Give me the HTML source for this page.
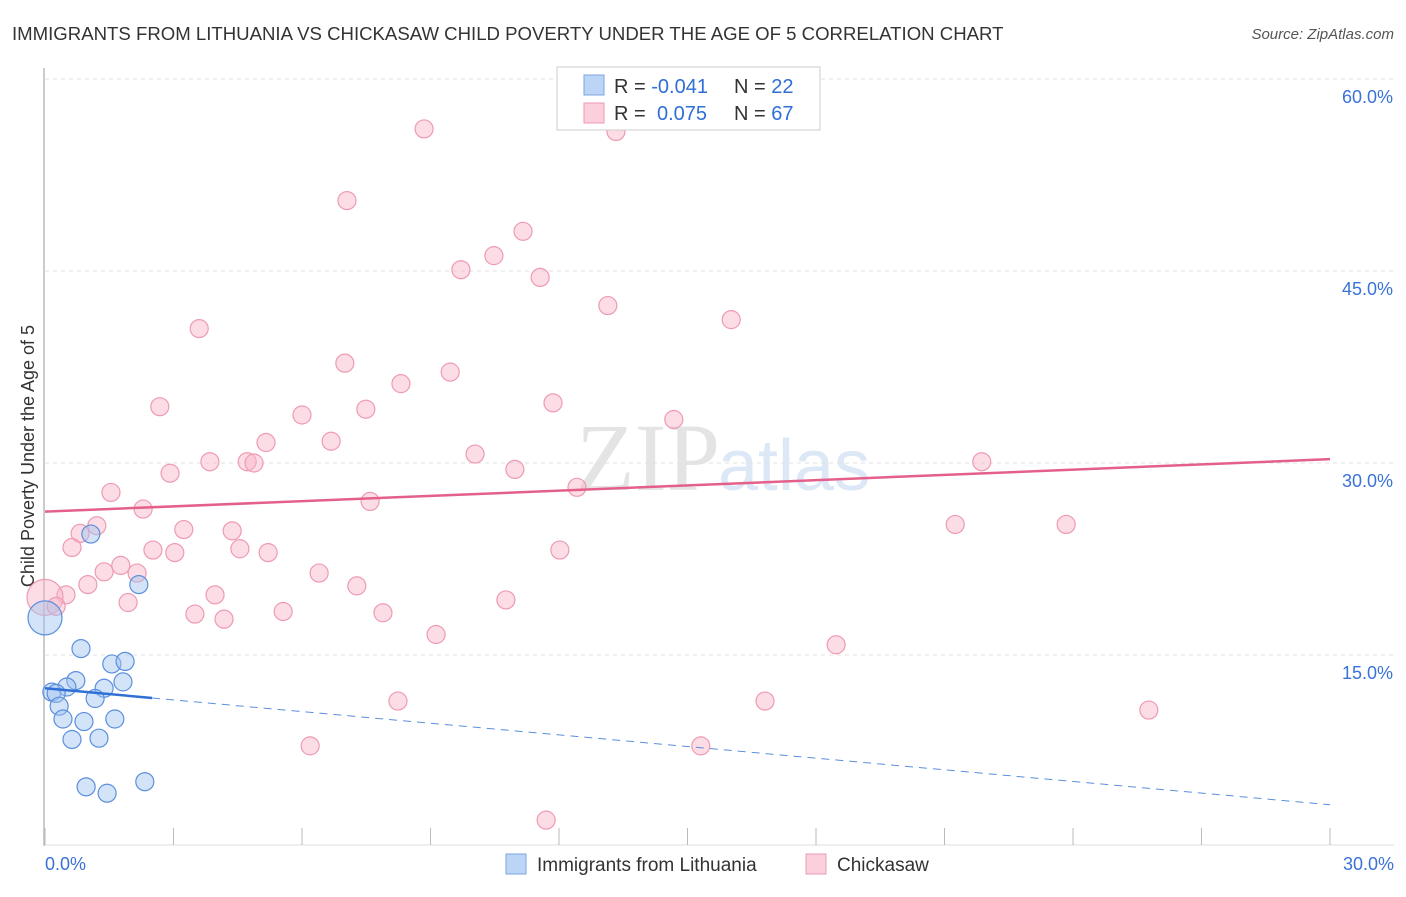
<!DOCTYPE html>
<html><head><meta charset="utf-8"><style>
body{margin:0;background:#fff;font-family:"Liberation Sans",sans-serif}
</style></head><body>
<svg width="1406" height="892" xmlns="http://www.w3.org/2000/svg" font-family="Liberation Sans, sans-serif">
<text x="12" y="40" font-size="18.6" fill="#333">IMMIGRANTS FROM LITHUANIA VS CHICKASAW CHILD POVERTY UNDER THE AGE OF 5 CORRELATION CHART</text>
<text x="1394" y="39" font-size="15" fill="#555" text-anchor="end" font-style="italic">Source: ZipAtlas.com</text>
<text x="720" y="490" font-size="96" fill="#e4e4e4" text-anchor="end" font-family="Liberation Serif, serif">ZIP</text>
<text x="718" y="490" font-size="72" fill="#dde8f6">atlas</text>
<g id="grid"></g>
<line x1="44" y1="68" x2="44" y2="846" stroke="#bbb" stroke-width="1.5"/>
<line x1="44" y1="845" x2="1394" y2="845" stroke="#ddd"/>
<g id="xticks"></g>
<text x="45" y="870" font-size="18" fill="#3a72d8">0.0%</text>
<text x="1394" y="870" font-size="18" fill="#3a72d8" text-anchor="end">30.0%</text>
<text transform="translate(34,456) rotate(-90)" font-size="18" fill="#333" text-anchor="middle">Child Poverty Under the Age of 5</text>
<g id="pts"></g>
<g id="lines"></g>
<g>
<rect x="557" y="67" width="263" height="63" fill="#fff" stroke="#ccc"/>
<rect x="584" y="75" width="20" height="20" fill="#bcd4f6" stroke="#7ea6e0"/>
<rect x="584" y="103" width="20" height="20" fill="#fbd0dc" stroke="#ee9ab2"/>
<text x="614" y="93" font-size="20" fill="#333">R = <tspan fill="#2f6fd6">-0.041</tspan><tspan x="734">N = </tspan><tspan fill="#2f6fd6">22</tspan></text>
<text x="614" y="120" font-size="20" fill="#333">R = <tspan x="657" fill="#2f6fd6">0.075</tspan><tspan x="734">N = </tspan><tspan fill="#2f6fd6">67</tspan></text>
</g>
<g>
<rect x="506" y="854" width="20" height="20" fill="#bcd4f6" stroke="#7ea6e0"/>
<text x="537" y="871" font-size="19" fill="#333">Immigrants from Lithuania</text>
<rect x="806" y="854" width="20" height="20" fill="#fbd0dc" stroke="#ee9ab2"/>
<text x="837" y="871" font-size="19" fill="#333">Chickasaw</text>
</g>
</svg>
<script>
const yTicks=[15,30,45,60];
const xTickVals=[0,3,6,9,12,15,18,21,24,27,30];
const blueX=[1.07,2.19,0,0.84,1.56,1.87,0.72,0.51,1.38,1.82,0.16,0.26,1.17,0.33,0.42,0.91,1.63,0.63,1.26,0.96,1.45,2.33];
const blueY=[24.45,20.5,17.9,15.5,14.3,14.5,13.0,12.5,12.4,12.9,12.1,12.0,11.6,11.0,10.0,9.8,10.0,8.4,8.5,4.7,4.2,5.1];
const pinkX=[8.85,13.33,7.05,11.16,10.48,9.71,11.56,13.14,16.02,3.6,7.0,9.46,8.31,2.68,11.86,7.49,6.0,14.68,5.16,6.68,3.85,4.72,4.88,10.04,10.97,2.92,21.87,12.42,1.54,7.59,2.29,1.21,0.82,3.24,4.37,21.25,23.84,0.63,2.52,3.03,4.55,5.21,12.02,1.77,1.38,2.15,6.4,1.0,7.28,3.97,0.49,0,0.26,1.94,10.76,3.5,4.18,5.56,7.89,9.13,18.47,8.24,16.81,25.77,6.19,15.31,11.7];
const pinkY=[56.1,55.9,50.5,48.1,46.2,45.1,44.5,42.3,41.2,40.5,37.8,37.1,36.2,34.4,34.7,34.2,33.75,33.4,31.6,31.7,30.1,30.1,30.0,30.7,29.5,29.2,30.1,28.1,27.7,27.0,26.4,25.1,24.5,24.8,24.7,25.2,25.2,23.4,23.2,23.0,23.3,23.0,23.2,22.0,21.5,21.4,21.4,20.5,20.4,19.7,19.7,19.5,18.8,19.1,19.3,18.2,17.8,18.4,18.3,16.6,15.8,11.4,11.4,10.7,7.9,7.9,2.1];
const pinkTrend=[26.2,30.3];
const blueTrend=[12.4,3.3];
const blueSolidEnd=2.5;
const X=v=>45+v/30*1285, Y=v=>847-v*12.8;
const NS="http://www.w3.org/2000/svg";
function mk(t,a,p){const e=document.createElementNS(NS,t);for(const k in a)e.setAttribute(k,a[k]);document.getElementById(p).appendChild(e);return e;}
yTicks.forEach(v=>{
 const l=mk('line',{x1:45,x2:1394,y1:Y(v),y2:Y(v),stroke:'#e2e2e2','stroke-dasharray':'4,4'},'grid');
 
 
 const t=mk('text',{x:1393,y:Y(v)+24,'font-size':18,fill:'#3a72d8','text-anchor':'end'},'grid');
 t.textContent=v.toFixed(1)+'%';
 
 
});
xTickVals.forEach(v=>{
 const l=mk('line',{x1:X(v),x2:X(v),y1:828,y2:845,stroke:'#bbb'},'xticks');
 
 
});
pinkX.forEach((x,i)=>{
 const big=x===0;
 const c=mk('circle',{cx:X(x),cy:Y(pinkY[i]),r:big?18:9,fill:'rgba(248,180,200,0.45)',stroke:'#ee9ab2','stroke-width':1.2},'pts');
 
 
});
blueX.forEach((x,i)=>{
 const big=x===0;
 const c=mk('circle',{cx:X(x),cy:Y(blueY[i]),r:big?17:9,fill:'rgba(160,195,240,0.45)',stroke:'#5b8fdc','stroke-width':1.2},'pts');
 
 
});
const pl=mk('line',{x1:X(0),y1:Y(pinkTrend[0]),x2:X(30),y2:Y(pinkTrend[1]),stroke:'#e4608a','stroke-width':2.5},'lines');


const by=v=>blueTrend[0]+(blueTrend[1]-blueTrend[0])*v/30;
const bl=mk('line',{x1:X(0),y1:Y(blueTrend[0]),x2:X(blueSolidEnd),y2:Y(by(blueSolidEnd)),stroke:'#2f6fd6','stroke-width':2.5},'lines');


const bd=mk('line',{x1:X(blueSolidEnd),y1:Y(by(blueSolidEnd)),x2:X(30),y2:Y(blueTrend[1]),stroke:'#5b8fdc','stroke-width':1,'stroke-dasharray':'8,6'},'lines');


</script>
</body></html>
